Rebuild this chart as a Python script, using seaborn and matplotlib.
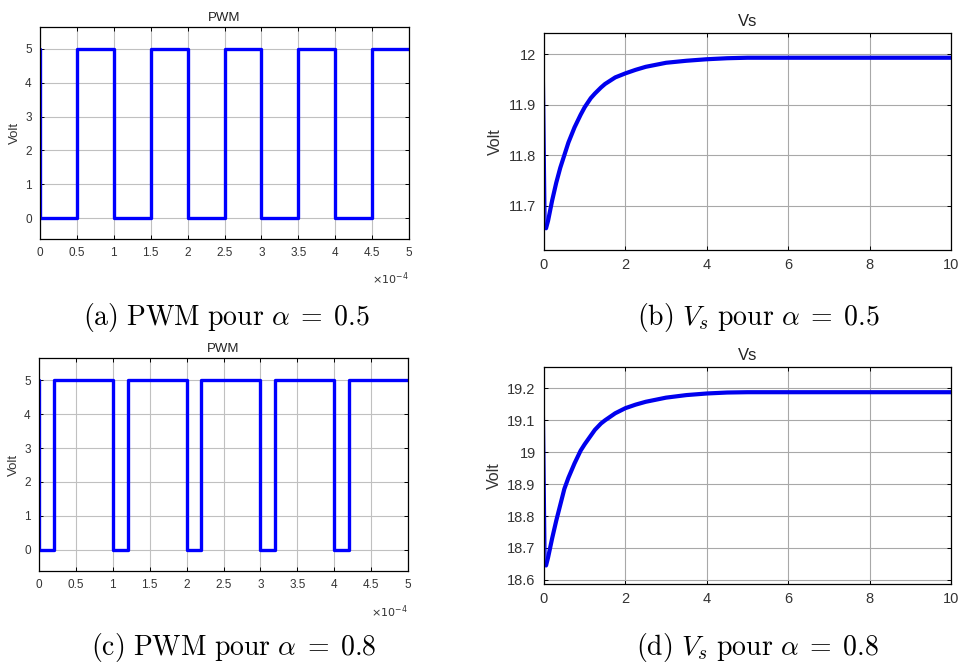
import matplotlib
matplotlib.use("Agg")
import matplotlib.pyplot as plt
import seaborn as sns
from matplotlib.ticker import MultipleLocator, FuncFormatter

sns.set_theme(style="ticks")
plt.rcParams["font.family"] = ["Liberation Sans", "DejaVu Sans"]

# PWM alpha = 0.5, time in seconds
pwm_a_t = [0, 0, 0.5e-4, 0.5e-4, 1.0e-4, 1.0e-4, 1.5e-4, 1.5e-4, 2.0e-4, 2.0e-4,
           2.5e-4, 2.5e-4, 3.0e-4, 3.0e-4, 3.5e-4, 3.5e-4, 4.0e-4, 4.0e-4,
           4.5e-4, 4.5e-4, 5.0e-4]
pwm_a_v = [5, 0, 0, 5, 5, 0, 0, 5, 5, 0, 0, 5, 5, 0, 0, 5, 5, 0, 0, 5, 5]

# PWM alpha = 0.8
pwm_c_t = [0, 0, 0.2e-4, 0.2e-4, 1.0e-4, 1.0e-4, 1.2e-4, 1.2e-4, 2.0e-4, 2.0e-4,
           2.2e-4, 2.2e-4, 3.0e-4, 3.0e-4, 3.2e-4, 3.2e-4, 4.0e-4, 4.0e-4,
           4.2e-4, 4.2e-4, 5.0e-4]
pwm_c_v = [5, 0, 0, 5, 5, 0, 0, 5, 5, 0, 0, 5, 5, 0, 0, 5, 5, 0, 0, 5, 5]

# output voltage
vs_t = [0, 0.05, 0.1, 0.15, 0.2, 0.3, 0.4, 0.5, 0.6, 0.75, 0.9, 1.0, 1.15, 1.25,
        1.4, 1.5, 1.75, 2.0, 2.25, 2.5, 3.0, 3.5, 4.0, 4.5, 5.0, 6.0, 8.0, 10.0]
vs_b = [12.0, 11.655, 11.67, 11.69, 11.71, 11.745, 11.775, 11.80, 11.825,
        11.855, 11.88, 11.895, 11.913, 11.922, 11.934, 11.941, 11.954, 11.962,
        11.969, 11.975, 11.983, 11.987, 11.990, 11.992, 11.993, 11.993, 11.993,
        11.993]
vs_d = [19.2, 18.645, 18.67, 18.70, 18.73, 18.785, 18.835, 18.885, 18.92,
        18.965, 19.005, 19.025, 19.052, 19.07, 19.09, 19.10, 19.122, 19.138,
        19.149, 19.158, 19.171, 19.179, 19.184, 19.187, 19.188, 19.188, 19.188,
        19.188]

captions = [r"$\mathrm{(a)\ PWM\ pour}\ \alpha\;=\;0.5$",
            r"$\mathrm{(b)}\ V_s\ \mathrm{pour}\ \alpha\;=\;0.5$",
            r"$\mathrm{(c)\ PWM\ pour}\ \alpha\;=\;0.8$",
            r"$\mathrm{(d)}\ V_s\ \mathrm{pour}\ \alpha\;=\;0.8$"]

W, H = 962, 668
fig = plt.figure(figsize=(W / 100, H / 100), dpi=100)
fig.patch.set_facecolor("white")


def px_axes(left, right, top, bottom):
    return fig.add_axes([left / W, 1 - bottom / H, (right - left) / W, (bottom - top) / H])


def style(ax, fs, grid_col):
    ax.set_facecolor("white")
    ax.grid(True, color=grid_col, lw=0.8)
    for s in ax.spines.values():
        s.set_color("black")
        s.set_linewidth(0.9)
    ax.tick_params(direction="in", length=3, width=0.7, top=True, right=True,
                   labelsize=fs, colors="black", labelcolor="#333333", pad=6)


def pwm_panel(ax, t, v):
    sns.lineplot(x=[x * 1e4 for x in t], y=v, estimator=None, sort=False,
                 color="#0000ff", lw=2.4, ax=ax)
    ax.set_xlim(0, 5)
    ax.set_ylim(-0.62, 5.65)
    ax.xaxis.set_major_locator(MultipleLocator(0.5))
    ax.yaxis.set_major_locator(MultipleLocator(1))
    ax.xaxis.set_major_formatter(FuncFormatter(lambda x, p: f"{x:g}"))
    style(ax, 8.5, "#c0c0c0")
    ax.set_title("PWM", fontsize=9.5, pad=4, color="#222222")
    ax.set_ylabel("Volt", fontsize=9.5, labelpad=3, color="#333333")
    ax.text(1.0, -0.15, r"$\times10^{-4}$", transform=ax.transAxes, ha="right",
            va="top", fontsize=8, color="#333333", math_fontfamily="dejavusans")


def vs_panel(ax, t, v, ylim, step):
    # initial jump drawn thin, then the charging curve
    sns.lineplot(x=t[:2], y=v[:2], estimator=None, sort=False, color="#0000ee", lw=1.0, ax=ax)
    sns.lineplot(x=t[1:], y=v[1:], estimator=None, sort=False, color="#0000ee", lw=3.0, ax=ax)
    ax.set_xlim(0, 10)
    ax.set_ylim(*ylim)
    ax.xaxis.set_major_locator(MultipleLocator(2))
    ax.yaxis.set_major_locator(MultipleLocator(step))
    ax.yaxis.set_major_formatter(FuncFormatter(lambda x, p: f"{round(x, 2):g}"))
    style(ax, 10.5, "#a8a8a8")
    ax.set_title("Vs", fontsize=12, pad=5, color="#222222")
    ax.set_ylabel("Volt", fontsize=11.5, labelpad=4, color="#333333")


ax_a = px_axes(40, 409, 27, 239)
pwm_panel(ax_a, pwm_a_t, pwm_a_v)
ax_b = px_axes(544, 951, 33, 250)
vs_panel(ax_b, vs_t, vs_b, (11.612, 12.042), 0.1)
ax_c = px_axes(39, 408, 358, 571)
pwm_panel(ax_c, pwm_c_t, pwm_c_v)
ax_d = px_axes(544, 951, 367, 584)
vs_panel(ax_d, vs_t, vs_d, (18.587, 19.267), 0.1)

cap_pos = [(227, 318), (758, 318), (234, 647), (757, 647)]
for (cx, cy), txt in zip(cap_pos, captions):
    fig.text(cx / W, 1 - cy / H, txt, ha="center", va="center", fontsize=20,
             math_fontfamily="cm", color="black")

fig.savefig("out.png", dpi=100)
